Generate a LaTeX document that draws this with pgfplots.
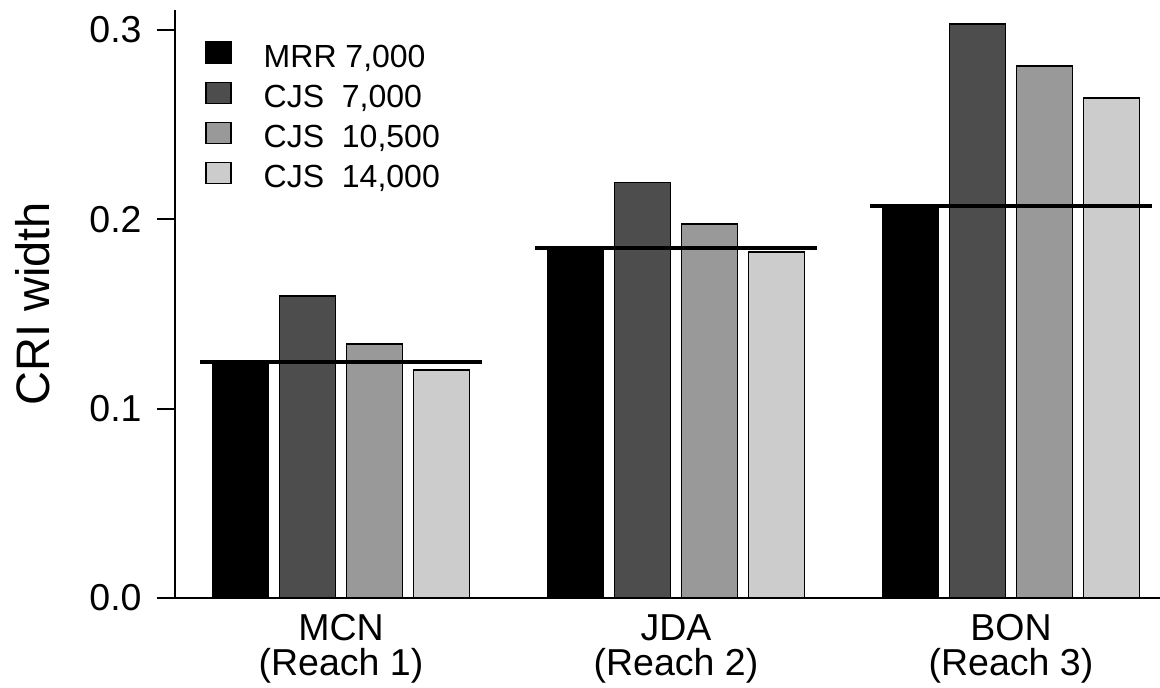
\documentclass[border=0pt]{standalone}
\usepackage{fontspec}
\setmainfont{Liberation Sans}
\usepackage{pgfplots}
\pgfplotsset{compat=1.18}
\definecolor{cB}{HTML}{4D4D4D}
\definecolor{cC}{HTML}{999999}
\definecolor{cD}{HTML}{CCCCCC}
\begin{document}
\begin{tikzpicture}
\begin{axis}[
  at={(87.5pt,44.5pt)}, anchor=south west,
  scale only axis, width=492.5pt, height=294pt,
  xmin=-0.4955, xmax=2.4448, ymin=0, ymax=0.3106,
  axis x line*=bottom, axis y line*=left,
  axis line style={line width=1pt, -},
  xtick={0,1,2},
  xticklabels={{MCN\\(Reach 1)},{JDA\\(Reach 2)},{BON\\(Reach 3)}},
  xticklabel style={align=center, font=\fontsize{18.75}{17.5}\selectfont, anchor=north, inner sep=0pt, yshift=1pt},
  xtick style={draw=none},
  ytick={0,0.1,0.2,0.3}, yticklabels={0.0,0.1,0.2,0.3},
  ytick style={line width=1pt, black},
  tick align=outside, major tick length=9pt,
  yticklabel style={font=\fontsize{18.75}{22}\selectfont, anchor=east, inner sep=0pt, xshift=-7.5pt},
  ylabel={CRI width},
  every axis y label/.style={at={(axis description cs:-0.1279,0.5)}, rotate=90, anchor=base, font=\fontsize{23.5}{28}\selectfont},
  clip=false,
  legend style={at={(0.0305,0.9473)}, anchor=north west, draw=none, fill=none, inner sep=0pt,
    font=\fontsize{16}{19}\selectfont, row sep=5pt, column sep=16pt,
    cells={anchor=base west},
    nodes={inner sep=0pt, text height=13pt, text depth=2pt}},
  legend image code/.code={\draw[#1] (0pt,2.25pt) rectangle (12.5pt,12.75pt);},
]
\addplot[ybar, bar width=0.167, bar shift=-0.3, fill=black, draw=black, line width=0.65pt]
  coordinates {(0,0.1247) (1,0.1849) (2,0.2071)};
\addlegendentry{MRR 7,000}
\addplot[ybar, bar width=0.167, bar shift=-0.1, fill=cB, draw=black, line width=0.65pt]
  coordinates {(0,0.1595) (1,0.2196) (2,0.3032)};
\addlegendentry{CJS\ \ 7,000}
\addplot[ybar, bar width=0.167, bar shift=0.1, fill=cC, draw=black, line width=0.65pt]
  coordinates {(0,0.1342) (1,0.1976) (2,0.2810)};
\addlegendentry{CJS\ \ 10,500}
\addplot[ybar, bar width=0.167, bar shift=0.3, fill=cD, draw=black, line width=0.65pt]
  coordinates {(0,0.1204) (1,0.1828) (2,0.2641)};
\addlegendentry{CJS\ \ 14,000}
\addplot[black, line width=1.6pt, mark=none, forget plot] coordinates {(-0.42,0.1247) (0.42,0.1247)};
\addplot[black, line width=1.6pt, mark=none, forget plot] coordinates {(0.58,0.1849) (1.42,0.1849)};
\addplot[black, line width=1.6pt, mark=none, forget plot] coordinates {(1.58,0.2071) (2.42,0.2071)};
\end{axis}
\pgfresetboundingbox
\path[use as bounding box] (0,0) rectangle (580pt,343.5pt);
\end{tikzpicture}
\end{document}
